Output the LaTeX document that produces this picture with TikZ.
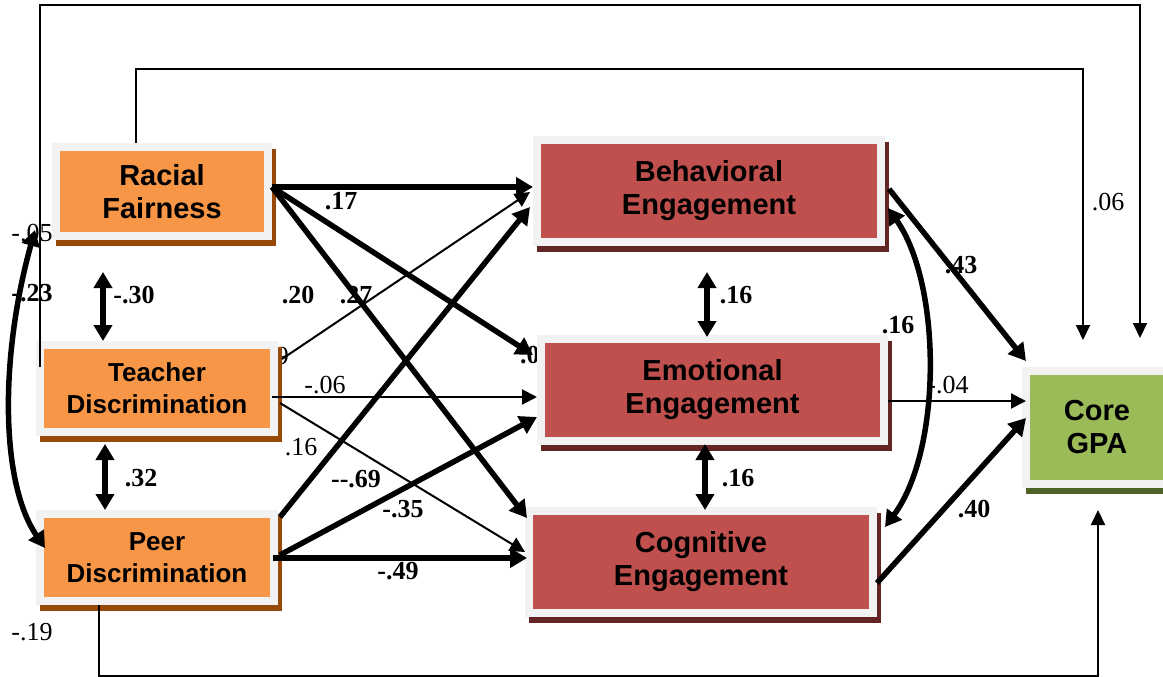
\documentclass[tikz,border=0pt]{standalone}
\usepackage{fontspec}
\setmainfont{Liberation Serif}
\newfontfamily\boxfont{Liberation Sans}
\usetikzlibrary{arrows.meta,calc}
\definecolor{frame}{HTML}{F2F2F2}
\definecolor{orng}{HTML}{F79646}
\definecolor{orngsh}{HTML}{984807}
\definecolor{redb}{HTML}{C0504D}
\definecolor{redsh}{HTML}{632523}
\definecolor{grn}{HTML}{9BBB59}
\definecolor{grnsh}{HTML}{4F6228}
\pgfdeclarelayer{hid}
\pgfdeclarelayer{shad}
\pgfsetlayers{hid,shad,main}
\begin{document}
\begin{tikzpicture}[x=1pt,y=-1pt,
  boxbase/.style={draw=frame, line width=8pt, inner sep=0pt, align=center},
  bigtxt/.style={font=\boxfont\bfseries\fontsize{29}{33}\selectfont},
  smalltxt/.style={font=\boxfont\bfseries\fontsize{26}{32}\selectfont},
  orbox/.style={boxbase, fill=orng},
  rdbox/.style={boxbase, fill=redb, bigtxt, minimum width=344pt, minimum height=102pt},
  gnbox/.style={boxbase, fill=grn, bigtxt},
  lb/.style={inner sep=0pt, font=\bfseries\fontsize{26}{30}\selectfont},
  lr/.style={inner sep=0pt, font=\fontsize{26}{30}\selectfont},
  thk/.style={line width=5.5pt, -{Triangle[length=17pt,width=19pt]}},
  thn/.style={line width=2pt, -{Triangle[length=15pt,width=15pt]}},
  dbl/.style={line width=5.5pt, {Triangle[length=16pt,width=18pt]}-{Triangle[length=16pt,width=18pt]}},
  lin/.style={line width=2pt},
  lintip/.style={line width=2pt, -{Triangle[length=15pt,width=14pt]}}
]
\path[use as bounding box, clip] (0,0) rectangle (1163,677);

% boxes
\node[orbox, bigtxt, minimum width=212pt, minimum height=89pt] (rf) at (162,191.5) {Racial\\Fairness};
\node[orbox, smalltxt, minimum width=234pt, minimum height=87pt] (td) at (157,388.5) {Teacher\\Discrimination};
\node[orbox, smalltxt, minimum width=234pt, minimum height=87pt] (pd) at (157,557.5) {Peer\\Discrimination};
\node[rdbox] (be) at (709,191) {Behavioral\\Engagement};
\node[rdbox, minimum width=343pt] (em) at (712.5,390) {Emotional\\Engagement};
\node[rdbox] (ce) at (701,562) {Cognitive\\Engagement};
\node[gnbox, minimum width=142pt, minimum height=113pt] (gpa) at (1097,427.5) {Core\\GPA};

% shadows
\begin{pgfonlayer}{shad}
\fill[orngsh] ([shift={(4pt,-6pt)}]rf.north west) rectangle ([shift={(4pt,-6pt)}]rf.south east);
\fill[orngsh] ([shift={(4pt,-6pt)}]td.north west) rectangle ([shift={(4pt,-6pt)}]td.south east);
\fill[orngsh] ([shift={(4pt,-6pt)}]pd.north west) rectangle ([shift={(4pt,-6pt)}]pd.south east);
\fill[redsh] ([shift={(4pt,-6pt)}]be.north west) rectangle ([shift={(4pt,-6pt)}]be.south east);
\fill[redsh] ([shift={(4pt,-6pt)}]em.north west) rectangle ([shift={(4pt,-6pt)}]em.south east);
\fill[redsh] ([shift={(4pt,-6pt)}]ce.north west) rectangle ([shift={(4pt,-6pt)}]ce.south east);
\fill[grnsh] ([shift={(4pt,-6pt)}]gpa.north west) rectangle ([shift={(4pt,-6pt)}]gpa.south east);
\end{pgfonlayer}

% partly hidden labels
\begin{pgfonlayer}{hid}
\node[lr, anchor=east] (h1) at (289,356) {.09};
\node[lb, anchor=west] (h2) at (520,355) {.09};
\end{pgfonlayer}

% labels
\node[lb] (l17) at (341,201) {.17};
\node[lb] (l20) at (298,295) {.20};
\node[lb] (l27) at (356,295) {.27};
\node[lr] (l06a) at (325,385) {-.06};
\node[lr] (l16a) at (301,447) {.16};
\node[lb] (l69) at (356,479) {-{}-.69};
\node[lb] (l35) at (403,509) {-.35};
\node[lb] (l49) at (398,571) {-.49};
\node[lb] (l30) at (134,295) {-.30};
\node[lb] (l23) at (32,293) {-.23};
\node[lr] (l05) at (32,233) {-.05};
\node[lb] (l32) at (141,478) {.32};
\node[lb] (l16b) at (736,295) {.16};
\node[lb] (l16c) at (738,478) {.16};
\node[lb] (l16d) at (898,325) {.16};
\node[lb] (l43) at (961,265) {.43};
\node[lr] (l04) at (948,385) {-.04};
\node[lb] (l40) at (974,509) {.40};
\node[lr] (l06b) at (1108,202) {.06};
\node[lr] (l19) at (32,632) {-.19};

% long connectors
\draw[lintip] ([xshift=4pt,yshift=-26pt]td.north west) -- ++(0,-362) -| ([xshift=43pt,yshift=29pt]gpa.north);
\draw[lintip] ([xshift=84pt]rf.north west) -- ++(0,-74) -| ([xshift=-14pt,yshift=27pt]gpa.north);
\draw[lintip] ([xshift=63pt]pd.south west) -- ++(0,71) -| ([xshift=1pt,yshift=-22pt]gpa.south);

% predictors -> engagement
\draw[thk] ([yshift=4.5pt]rf.east) -- ([yshift=4pt]be.west);
\draw[thk] ([yshift=4.5pt]rf.east) -- ([xshift=-4pt,yshift=-20pt]em.north west);
\draw[thk] ([yshift=4.5pt]rf.east) -- ([xshift=2pt,yshift=-11pt]ce.north west);
\draw[thn] ([xshift=4pt,yshift=-18pt]td.north east) -- ([xshift=-3pt,yshift=-1pt]be.west);
\draw[thn] ([xshift=-6pt,yshift=-8.5pt]td.east) -- ([yshift=-7pt]em.west);
\draw[thn] ([xshift=2pt,yshift=-14.5pt]td.east) -- ([yshift=10pt]ce.west);
\draw[thk] ([xshift=2pt,yshift=-7pt]pd.north east) -- ([xshift=-3pt,yshift=-16pt]be.west);
\draw[thk] ([xshift=2pt,yshift=2.5pt]pd.east) -- ([yshift=-27pt]em.west);
\draw[thk] ([xshift=-5pt,yshift=-0.5pt]pd.east) -- ([xshift=2pt,yshift=4pt]ce.west);

% engagement -> GPA
\draw[thk] ([xshift=4pt,yshift=2pt]be.east) -- ([xshift=4pt,yshift=6pt]gpa.north west);
\draw[thn] ([yshift=-11pt]em.east) -- ([xshift=4pt,yshift=26.5pt]gpa.west);
\draw[thk] ([yshift=-21pt]ce.east) -- ([xshift=4pt,yshift=9.5pt]gpa.west);

% covariances
\draw[dbl] ([xshift=51pt,yshift=-32pt]rf.south west) -- ([xshift=67pt]td.north west);
\draw[dbl] ([xshift=69pt,yshift=-8pt]td.south west) -- ([xshift=69pt]pd.north west);
\draw[dbl] ([xshift=174pt,yshift=-26pt]be.south west) -- ([xshift=170pt,yshift=-2pt]em.north west);
\draw[dbl] ([xshift=168pt,yshift=1pt]em.south west) -- ([xshift=180pt,yshift=-3pt]ce.north west);
\draw[dbl] ([xshift=3pt,yshift=-17pt]be.east) .. controls (942,285) and (942,450) .. ([xshift=8pt,yshift=-20pt]ce.north east);
\draw[dbl] ([xshift=-17pt,yshift=10pt]rf.south west) .. controls (0,356) and (0,482) .. ([xshift=9pt,yshift=9.5pt]pd.west);
\end{tikzpicture}
\end{document}
